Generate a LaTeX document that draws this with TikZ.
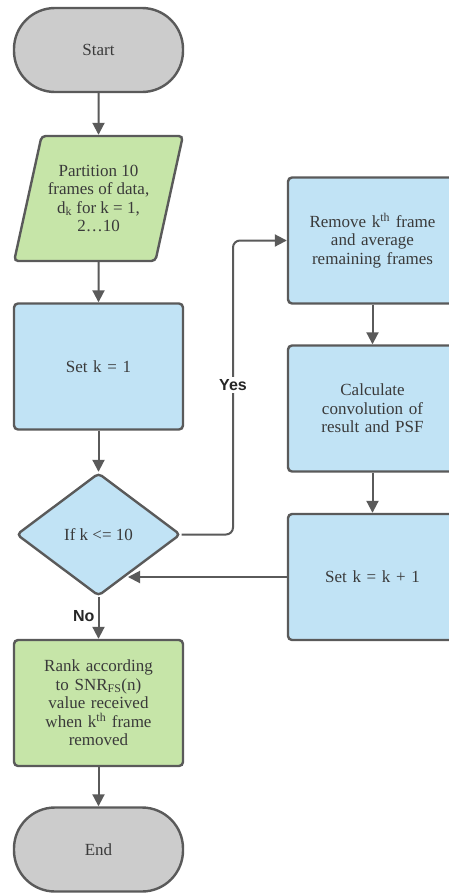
\documentclass[tikz,border=0pt]{standalone}
\usepackage{fontspec}
\setmainfont{Liberation Serif}
\newfontfamily\labelfont{Liberation Sans}
\usetikzlibrary{shapes.geometric,arrows.meta}
\definecolor{edgec}{HTML}{5A5A5A}
\definecolor{termc}{HTML}{CCCCCC}
\definecolor{greenc}{HTML}{C6E5A8}
\definecolor{bluec}{HTML}{C1E3F5}
\definecolor{txtc}{HTML}{3A3A3A}
\tikzset{
  base/.style={draw=edgec, line width=2.4pt, text=txtc, align=center, font=\fontsize{17}{18.5}\selectfont, inner sep=2pt},
  term/.style={base, fill=termc, rounded corners=41pt, minimum width=169pt, minimum height=84pt},
  procbox/.style={base, fill=bluec, rounded corners=4pt, minimum width=169pt, minimum height=126pt, text width=160pt},
  gbox/.style={procbox, fill=greenc},
  iobox/.style={base, fill=greenc, trapezium, trapezium left angle=71, trapezium right angle=109, trapezium stretches=true, rounded corners=4pt, minimum width=169pt, minimum height=125pt, inner xsep=0pt},
  decis/.style={base, fill=bluec, diamond, rounded corners=4pt, minimum width=164pt, minimum height=123pt, inner sep=0pt},
  conn/.style={draw=edgec, line width=2pt, -{Triangle[length=12pt,width=12pt]}},
  lbl/.style={font=\labelfont\bfseries\fontsize{16}{18}\selectfont, text=black!85, fill=white, inner sep=2pt}
}
\begin{document}
\begin{tikzpicture}[x=1pt,y=-1pt]
\useasboundingbox[fill=white] (0,0) rectangle (449,895);
\node[term] (start) at (98.5,50) {Start};
\node[iobox] (part) at (98.5,198.5) {Partition 10\\frames of data,\\d\textsubscript{k} for k = 1,\\2\ldots10};
\node[procbox] (setk) at (98.5,366.5) {Set k = 1};
\node[decis] (dec) at (98.5,534.5) {If k <= 10};
\node[gbox] (rank) at (98.5,703) {Rank according\\to SNR\textsubscript{FS}(n)\\value received\\when k\textsuperscript{th} frame\\removed};
\node[term] (end) at (98.5,849.5) {End};
\node[procbox] (rem) at (372.5,240.5) {Remove k\textsuperscript{th} frame\\and average\\remaining frames};
\node[procbox] (calc) at (372.5,408.5) {Calculate\\convolution of\\result and PSF};
\node[procbox] (inc) at (372.5,577) {Set k = k + 1};
\coordinate (yx) at (233,0);
\coordinate (hit) at (128,577);
\draw[conn] (start) -- (part);
\draw[conn] (part) -- (setk);
\draw[conn] (setk) -- (dec);
\draw[conn] (dec) -- node[lbl, pos=0.45, left, xshift=-1pt] (no) {No} (rank);
\draw[conn] (rank) -- (end);
\draw[conn, rounded corners=7pt] (dec.east) -- (dec.east -| yx) -- (rem.west -| yx) -- (rem.west);
\node[lbl] (yes) at (233,385) {Yes};
\draw[conn] (rem) -- (calc);
\draw[conn] (calc) -- (inc);
\draw[conn] (inc.west) -- (hit);
\end{tikzpicture}
\end{document}
